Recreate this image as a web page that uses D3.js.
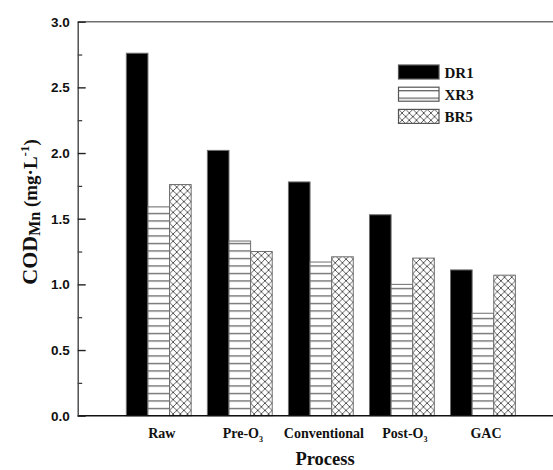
<!DOCTYPE html>
<html>
<head>
<meta charset="utf-8">
<script src="https://cdn.jsdelivr.net/npm/d3@7"></script>
<style>
  body { margin: 0; background: #fff; }
  svg { display: block; }
</style>
</head>
<body>
<div class="chart"></div>
<script>
// values
const processes = ["Raw", "Pre-O3", "Conventional", "Post-O3", "GAC"];
const seriesNames = ["DR1", "XR3", "BR5"];
const dr1 = [2.76, 2.02, 1.78, 1.53, 1.11];
const xr3 = [1.59, 1.33, 1.17, 1.00, 0.78];
const br5 = [1.76, 1.25, 1.21, 1.20, 1.07];
const majorTicks = [0, 0.5, 1.0, 1.5, 2.0, 2.5, 3.0];
const minorTicks = [0.25, 0.75, 1.25, 1.75, 2.25, 2.75];

const width = 553, height = 470;
const marginLeft = 77.7, marginTop = 21.7, plotBottom = 415.7, plotRight = 564;
const serif = "'Liberation Serif', 'Times New Roman', serif";
const sans = "'Liberation Sans', Arial, sans-serif";

const svg = d3.select(".chart").append("svg")
    .attr("width", width)
    .attr("height", height)
    .attr("viewBox", [0, 0, width, height]);

// fill patterns
const defs = svg.append("defs");
const stripes = defs.append("pattern")
    .attr("id", "stripes")
    .attr("patternUnits", "userSpaceOnUse")
    .attr("width", 8).attr("height", 7.5);
stripes.append("rect").attr("width", 8).attr("height", 7.5).attr("fill", "#fff");
stripes.append("line")
    .attr("x1", 0).attr("x2", 8).attr("y1", 3.5).attr("y2", 3.5)
    .attr("stroke", "#5a5a5a").attr("stroke-width", 1.2);

const cross = defs.append("pattern")
    .attr("id", "cross")
    .attr("patternUnits", "userSpaceOnUse")
    .attr("width", 7.2).attr("height", 7.2);
cross.append("rect").attr("width", 7.2).attr("height", 7.2).attr("fill", "#fff");
cross.append("path")
    .attr("d", "M0,0L7.2,7.2M7.2,0L0,7.2")
    .attr("stroke", "#4a4a4a").attr("stroke-width", 0.9).attr("fill", "none");

const fills = {DR1: "#000", XR3: "url(#stripes)", BR5: "url(#cross)"};
const values = {DR1: dr1, XR3: xr3, BR5: br5};

// scales
const x = d3.scaleBand()
    .domain(processes)
    .range([marginLeft, plotRight])
    .paddingInner(0.2)
    .paddingOuter(0.6);

const xSub = d3.scaleBand()
    .domain(seriesNames)
    .range([0, x.bandwidth()]);

const y = d3.scaleLinear()
    .domain([0, 3])
    .range([plotBottom, marginTop]);

// bars
const data = processes.map((p, i) => ({process: p, items: seriesNames.map(s => ({key: s, value: values[s][i]}))}));

svg.append("g")
    .selectAll("g")
    .data(data)
    .join("g")
    .attr("transform", d => `translate(${x(d.process)},0)`)
    .selectAll("rect")
    .data(d => d.items)
    .join("rect")
    .attr("x", d => xSub(d.key))
    .attr("y", d => y(d.value))
    .attr("width", xSub.bandwidth())
    .attr("height", d => y(0) - y(d.value))
    .attr("fill", d => fills[d.key])
    .attr("stroke", "#6e6e6e")
    .attr("stroke-width", 1);

// frame: top line and bottom axis run off the right edge
svg.append("line")
    .attr("x1", marginLeft).attr("x2", width)
    .attr("y1", marginTop).attr("y2", marginTop)
    .attr("stroke", "#707070").attr("stroke-width", 1.5);

svg.append("line")
    .attr("x1", marginLeft).attr("x2", width)
    .attr("y1", plotBottom).attr("y2", plotBottom)
    .attr("stroke", "#111").attr("stroke-width", 1.6);

// left axis, ticks pointing inward
svg.append("g")
    .attr("transform", `translate(${marginLeft},0)`)
    .call(d3.axisLeft(y).tickValues(minorTicks).tickSizeInner(-4.5).tickSizeOuter(0).tickFormat(""))
    .call(g => g.select(".domain").remove())
    .call(g => g.selectAll("line").attr("stroke", "#333").attr("stroke-width", 1.2));

svg.append("g")
    .attr("transform", `translate(${marginLeft},0)`)
    .call(d3.axisLeft(y).tickValues(majorTicks).tickSizeInner(-8).tickSizeOuter(0).tickPadding(8).tickFormat(d3.format(".1f")))
    .call(g => g.select(".domain").attr("stroke", "#444").attr("stroke-width", 1.4))
    .call(g => g.selectAll("line").attr("stroke", "#222").attr("stroke-width", 1.4))
    .call(g => g.selectAll("text")
        .attr("font-family", sans)
        .attr("font-weight", "bold")
        .attr("font-size", 13.5)
        .attr("fill", "#111"));

// x category labels (O3 with subscript)
const xLabels = svg.append("g")
    .selectAll("text")
    .data(processes)
    .join("text")
    .attr("x", d => x(d) + x.bandwidth() / 2 + 3)
    .attr("y", 438)
    .attr("text-anchor", "middle")
    .attr("font-family", serif)
    .attr("font-weight", "bold")
    .attr("font-size", 14)
    .attr("fill", "#111");

xLabels.each(function(d) {
    const t = d3.select(this);
    if (d.endsWith("O3")) {
        t.append("tspan").text(d.slice(0, -1));
        t.append("tspan").attr("font-size", 8).attr("dy", 4).text("3");
    } else {
        t.text(d);
    }
});

// x title
svg.append("text")
    .attr("x", 325)
    .attr("y", 465)
    .attr("text-anchor", "middle")
    .attr("font-family", serif)
    .attr("font-weight", "bold")
    .attr("font-size", 18.5)
    .attr("fill", "#111")
    .text("Process");

// y title
const yTitle = svg.append("text")
    .attr("transform", "translate(37,212) rotate(-90)")
    .attr("text-anchor", "middle")
    .attr("font-family", serif)
    .attr("font-weight", "bold")
    .attr("fill", "#111");
yTitle.append("tspan").attr("font-size", 22).text("COD");
yTitle.append("tspan").attr("font-size", 16).attr("dy", 3).text("Mn");
yTitle.append("tspan").attr("font-size", 19).attr("dy", -3).text(" (mg\u00b7L");
yTitle.append("tspan").attr("font-size", 13).attr("dy", -8).text("-1");
yTitle.append("tspan").attr("font-size", 19).attr("dy", 8).text(")");

// legend
const legend = svg.append("g")
    .selectAll("g")
    .data(seriesNames)
    .join("g")
    .attr("transform", (d, i) => `translate(398.5,${65 + i * 22.2})`);

legend.append("rect")
    .attr("width", 40.5)
    .attr("height", 14)
    .attr("fill", d => fills[d])
    .attr("stroke", "#555")
    .attr("stroke-width", 1.2);

legend.append("text")
    .attr("x", 46)
    .attr("y", 12.5)
    .attr("font-family", serif)
    .attr("font-weight", "bold")
    .attr("font-size", 15)
    .attr("fill", "#111")
    .text(d => d);
</script>
</body>
</html>
